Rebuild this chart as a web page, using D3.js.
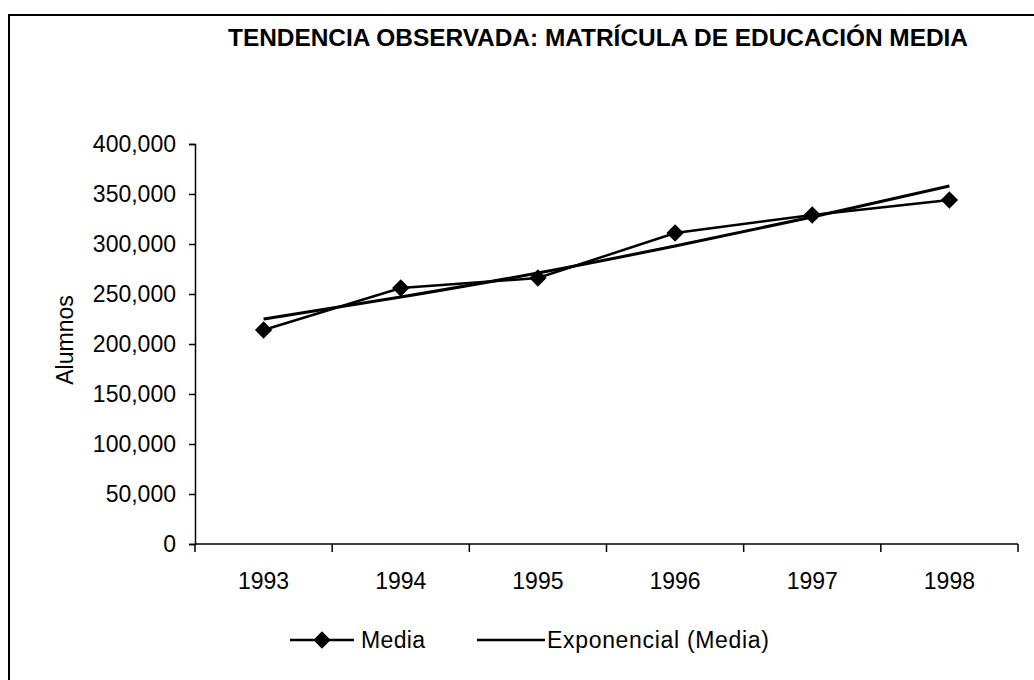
<!DOCTYPE html>
<html>
<head>
<meta charset="utf-8">
<script src="https://cdn.jsdelivr.net/npm/d3@7"></script>
<style>
  body { margin: 0; background: #fff; }
  text { font-family: Arial, "Liberation Sans", sans-serif; fill: #000; }
</style>
</head>
<body>
<div id="chart"></div>
<script>
// data
const years = ["1993", "1994", "1995", "1996", "1997", "1998"];
const media = [214000, 256000, 266000, 311000, 329000, 344000];
const exponencial = [225000, 247000, 271000, 298000, 327000, 358000];
const yTicks = [0, 50000, 100000, 150000, 200000, 250000, 300000, 350000, 400000];

const W = 1034, H = 680;
const margin = {top: 144, right: 16, bottom: 136, left: 195};
const width = W - margin.left - margin.right;
const height = H - margin.top - margin.bottom;

const svg = d3.select("#chart").append("svg")
    .attr("width", W)
    .attr("height", H);

// outer frame (only top and left edges visible in the picture)
svg.append("rect")
    .attr("x", 9).attr("y", 15)
    .attr("width", W + 20).attr("height", H + 20)
    .attr("fill", "none")
    .attr("stroke", "#000")
    .attr("stroke-width", 2);

// title
svg.append("text")
    .attr("x", 598).attr("y", 46)
    .attr("text-anchor", "middle")
    .attr("font-size", 24)
    .attr("font-weight", "bold")
    .attr("textLength", 740)
    .attr("lengthAdjust", "spacingAndGlyphs")
    .text("TENDENCIA OBSERVADA: MATRÍCULA DE EDUCACIÓN MEDIA");

const g = svg.append("g")
    .attr("transform", "translate(" + margin.left + "," + margin.top + ")");

const x = d3.scaleBand().domain(years).range([0, width]);
const y = d3.scaleLinear().domain([0, 400000]).range([height, 0]);
const cx = d => x(d) + x.bandwidth() / 2;

// y axis
const yAxis = g.append("g")
    .call(d3.axisLeft(y).tickValues(yTicks).tickSize(6).tickPadding(13)
        .tickFormat(d3.format(",")));
yAxis.select(".domain").attr("stroke", "#000").attr("stroke-width", 1.5);
yAxis.selectAll("line").attr("stroke", "#000").attr("stroke-width", 1.5);
yAxis.selectAll("text").attr("font-size", 23).attr("font-family", "Arial, 'Liberation Sans', sans-serif");

// x axis: ticks on band boundaries
const xAxis = g.append("g").attr("transform", "translate(0," + height + ")");
xAxis.append("line")
    .attr("x1", 0).attr("x2", width)
    .attr("stroke", "#000").attr("stroke-width", 1.5);
xAxis.selectAll(".xt")
    .data(years.concat(["end"]))
    .enter().append("line")
    .attr("class", "xt")
    .attr("x1", (d, i) => i * x.step())
    .attr("x2", (d, i) => i * x.step())
    .attr("y1", 0).attr("y2", 8)
    .attr("stroke", "#000").attr("stroke-width", 1.5);
xAxis.selectAll(".xl")
    .data(years)
    .enter().append("text")
    .attr("class", "xl")
    .attr("x", d => cx(d))
    .attr("y", 45)
    .attr("text-anchor", "middle")
    .attr("font-size", 23)
    .text(d => d);

// y label
svg.append("text")
    .attr("transform", "translate(73,340) rotate(-90)")
    .attr("text-anchor", "middle")
    .attr("font-size", 23)
    .text("Alumnos");

// trend line (exponential)
const trendLine = d3.line()
    .x((d, i) => cx(years[i]))
    .y(d => y(d))
    .curve(d3.curveMonotoneX);
g.append("path")
    .datum(exponencial)
    .attr("d", trendLine)
    .attr("fill", "none")
    .attr("stroke", "#000")
    .attr("stroke-width", 3);

// data line
const dataLine = d3.line()
    .x((d, i) => cx(years[i]))
    .y(d => y(d));
g.append("path")
    .datum(media)
    .attr("d", dataLine)
    .attr("fill", "none")
    .attr("stroke", "#000")
    .attr("stroke-width", 2.5);

const diamond = d3.symbol().type(d3.symbolDiamond2).size(190);
g.selectAll(".pt")
    .data(media)
    .enter().append("path")
    .attr("class", "pt")
    .attr("d", diamond)
    .attr("transform", (d, i) => "translate(" + cx(years[i]) + "," + y(d) + ")")
    .attr("fill", "#000");

// legend
const leg = svg.append("g");
leg.append("line")
    .attr("x1", 290).attr("x2", 354).attr("y1", 640).attr("y2", 640)
    .attr("stroke", "#000").attr("stroke-width", 2.5);
leg.append("path")
    .attr("d", diamond)
    .attr("transform", "translate(322,640)")
    .attr("fill", "#000");
leg.append("text")
    .attr("x", 361).attr("y", 648)
    .attr("font-size", 23)
    .attr("textLength", 64)
    .text("Media");
leg.append("line")
    .attr("x1", 477).attr("x2", 545).attr("y1", 640).attr("y2", 640)
    .attr("stroke", "#000").attr("stroke-width", 2.5);
leg.append("text")
    .attr("x", 547).attr("y", 648)
    .attr("font-size", 23)
    .attr("textLength", 222)
    .text("Exponencial (Media)");
</script>
</body>
</html>
